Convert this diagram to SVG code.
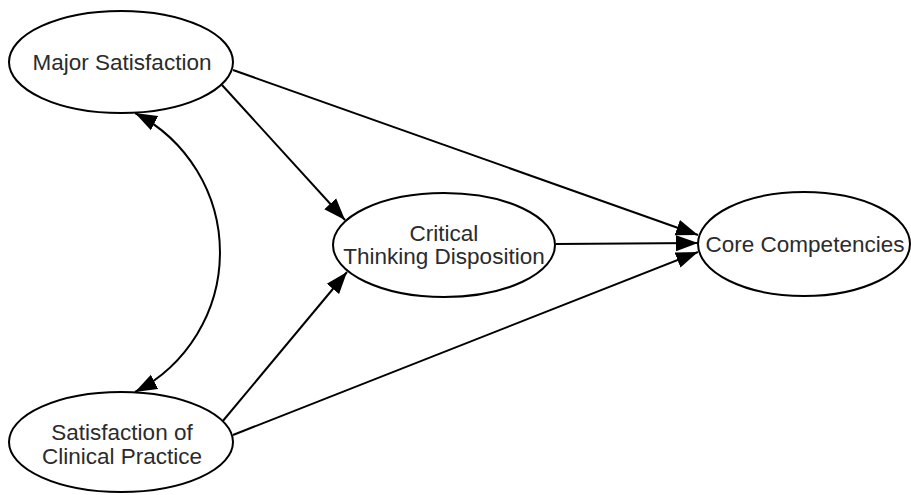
<svg xmlns="http://www.w3.org/2000/svg" width="911" height="495" viewBox="0 0 911 495">
<style>
.node ellipse{fill:#fff;stroke:#000;stroke-width:2}
.node text{font-family:"Liberation Sans",Arial,sans-serif;font-size:22.5px;fill:#2b2b2b;text-anchor:middle}
.edge{fill:none;stroke:#000;stroke-width:2}
</style>
<defs>
<marker id="arr" markerUnits="userSpaceOnUse" markerWidth="24" markerHeight="18" refX="22" refY="8" orient="auto-start-reverse" viewBox="0 0 24 16">
<path d="M0,0 L22,8 L0,16 z" fill="#000"/>
</marker>
</defs>
<rect width="911" height="495" fill="#fff"/>
<g id="connectors">
<path class="edge" d="M233,70 L698,235" marker-end="url(#arr)"/>
<path class="edge" d="M222,85 L345,220" marker-end="url(#arr)"/>
<path class="edge" d="M222,422 L347,272" marker-end="url(#arr)"/>
<path class="edge" d="M233,435 L698,252" marker-end="url(#arr)"/>
<path class="edge" d="M556,244 L698,243" marker-end="url(#arr)"/>
<path class="edge" d="M135,113 A157,157 0 0 1 135,392" marker-start="url(#arr)" marker-end="url(#arr)"/>
</g>
<g id="major" class="node">
<ellipse cx="121" cy="62" rx="112" ry="51"/>
<text x="122" y="70">Major Satisfaction</text>
</g>
<g id="critical" class="node">
<ellipse cx="444" cy="245" rx="111" ry="52"/>
<text x="444" y="241">Critical</text>
<text x="444" y="264">Thinking Disposition</text>
</g>
<g id="core" class="node">
<ellipse cx="804" cy="244" rx="106" ry="52"/>
<text x="805" y="252">Core Competencies</text>
</g>
<g id="clinical" class="node">
<ellipse cx="121" cy="442" rx="112" ry="50"/>
<text x="122" y="440">Satisfaction of</text>
<text x="122" y="464">Clinical Practice</text>
</g>
</svg>
